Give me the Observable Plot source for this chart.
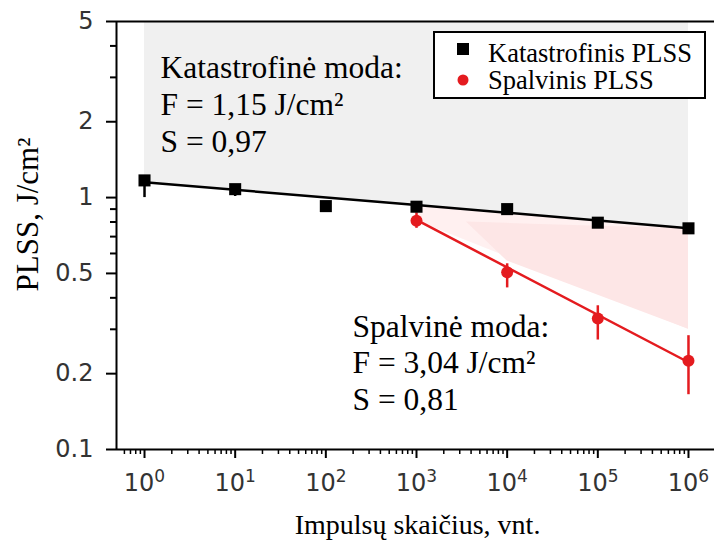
<!DOCTYPE html>
<html><head><meta charset="utf-8">
<script src="https://cdn.jsdelivr.net/npm/d3@7"></script>
<script src="https://cdn.jsdelivr.net/npm/@observablehq/plot@0.6"></script>
<style>
body{margin:0;background:#fff;}
#wrap{position:relative;width:714px;height:541px;overflow:hidden;}
#legend{position:absolute;left:0;top:0;pointer-events:none;}
</style></head>
<body><div id="wrap"></div>
<script>
// ---- data ----
const catN     = [1, 10, 100, 1e3, 1e4, 1e5, 1e6];
const catPLSS  = [1.17, 1.08, 0.925, 0.92, 0.90, 0.795, 0.755];
const catLow   = [1.00, 1.01, 0.91, 0.90, 0.85, 0.78, 0.74];
const catHigh  = [1.22, 1.12, 0.95, 0.94, 0.93, 0.82, 0.77];

const spalN    = [1e3, 1e4, 1e5, 1e6];
const spalPLSS = [0.81, 0.505, 0.331, 0.225];
const spalLow  = [0.755, 0.438, 0.272, 0.165];
const spalHigh = [0.87, 0.546, 0.372, 0.283];

// fitted lines (read at their ends)
const catFitN  = [1, 1e3, 1e6];
const catFit   = [1.15, 0.935, 0.755];
const spalFitN = [1e3, 1e6];
const spalFit  = [0.815, 0.222];

// shaded regions
const grayTop   = 5;
const pinkN     = [1e3, 1e6];
const pinkLow   = [0.81, 0.30];
const pinkHigh  = [0.935, 0.755];
const pink2N    = [10 ** 3.55, 1e4, 1e6];
const pink2Low  = [0.80, 0.56, 0.30];
const pink2High = [0.80, 0.79, 0.75];

// axes
const xTicks      = [1, 10, 100, 1e3, 1e4, 1e5, 1e6];
const xTickLabels = ["10^0", "10^1", "10^2", "10^3", "10^4", "10^5", "10^6"];
const yTicks      = [0.1, 0.2, 0.5, 1, 2, 5];
const yTickLabels = ["0.1", "0.2", "0.5", "1", "2", "5"];
const yMinor      = [0.3, 0.4, 0.6, 0.7, 0.8, 0.9, 3, 4];
const xDomain     = [10 ** -0.309, 10 ** 6.287];
const yDomain     = [0.1, 5];

const xMinor = [];
for (let e = -1; e <= 6; e++) for (let m = 2; m <= 9; m++) {
  const v = m * 10 ** e;
  if (v > xDomain[0] * 1.02 && v < xDomain[1]) xMinor.push(v);
}

const annoCat  = "Katastrofinė moda:\nF = 1,15 J/cm²\nS = 0,97";
const annoSpal = "Spalvinė moda:\nF = 3,04 J/cm²\nS = 0,81";
const xTitle = "Impulsų skaičius, vnt.";
const yTitle = "PLSS, J/cm²";
const legendItems = ["Katastrofinis PLSS", "Spalvinis PLSS"];

const RED = "#e41b1f";
const serif = "'Liberation Serif', 'Times New Roman', serif";
const idx = (a) => a.map((_, i) => i);

const chart = Plot.plot({
  width: 714, height: 541,
  marginLeft: 116, marginRight: 0, marginTop: 21, marginBottom: 92,
  style: {fontFamily: "DejaVu Sans", background: "white", overflow: "visible"},
  x: {type: "log", domain: xDomain, axis: null},
  y: {type: "log", domain: yDomain, axis: null},
  marks: [
    Plot.areaY(idx(catFitN), {x: i => catFitN[i], y1: i => catFit[i], y2: () => grayTop, fill: "#f0f0f0"}),
    Plot.areaY(idx(pinkN), {x: i => pinkN[i], y1: i => pinkLow[i], y2: i => pinkHigh[i], fill: "#fff0f0"}),
    Plot.areaY(idx(pink2N), {x: i => pink2N[i], y1: i => pink2Low[i], y2: i => pink2High[i], fill: "#fde6e6"}),
    Plot.line(idx(catFitN), {x: i => catFitN[i], y: i => catFit[i], stroke: "#000", strokeWidth: 2.5}),
    Plot.line(idx(spalFitN), {x: i => spalFitN[i], y: i => spalFit[i], stroke: RED, strokeWidth: 2.5}),
    Plot.ruleX(idx(catN), {x: i => catN[i], y1: i => catLow[i], y2: i => catHigh[i], stroke: "#000", strokeWidth: 2.5}),
    Plot.ruleX(idx(spalN), {x: i => spalN[i], y1: i => spalLow[i], y2: i => spalHigh[i], stroke: RED, strokeWidth: 2.5}),
    Plot.dot(idx(catN), {x: i => catN[i], y: i => catPLSS[i], symbol: "square", r: 6.8, fill: "#000"}),
    Plot.dot(idx(spalN), {x: i => spalN[i], y: i => spalPLSS[i], symbol: "circle", r: 6, fill: RED}),
    Plot.text([annoCat], {text: d => d, frameAnchor: "top-left", textAnchor: "start", lineAnchor: "top",
      dx: 44, dy: 30, fontSize: 31.5, lineHeight: 1.18, fontFamily: serif, fill: "#000"}),
    Plot.text([annoSpal], {text: d => d, frameAnchor: "top-left", textAnchor: "start", lineAnchor: "top",
      dx: 236, dy: 290, fontSize: 31.5, lineHeight: 1.15, fontFamily: serif, fill: "#000"}),
    Plot.text([xTitle], {text: d => d, frameAnchor: "bottom", lineAnchor: "top", dx: 2, dy: 65,
      fontSize: 28, fontFamily: serif, fill: "#000"}),
    Plot.text([yTitle], {text: d => d, frameAnchor: "left", textAnchor: "middle", rotate: -90, dx: -88, dy: -21,
      fontSize: 31, fontFamily: serif, fill: "#000"}),
    Plot.axisY({ticks: yTicks, tickSize: 10, tickPadding: 13, tickFormat: d => yTickLabels[yTicks.indexOf(d)],
      fontSize: 24, stroke: "#000", fill: "#333", strokeWidth: 2, label: null}),
    Plot.axisY({ticks: yMinor, tickSize: 6, tickFormat: () => "", stroke: "#000", strokeWidth: 2, label: null}),
    Plot.axisX({ticks: xTicks, tickSize: 9, tickPadding: 15, tickFormat: d => xTickLabels[xTicks.indexOf(d)],
      fontSize: 24, stroke: "#000", fill: "#333", strokeWidth: 2, label: null}),
    Plot.axisX({ticks: xMinor, tickSize: 5, tickFormat: () => "", stroke: "#000", strokeWidth: 1.5, label: null}),
    Plot.ruleY([yDomain[1]], {stroke: "#000", strokeWidth: 2}),
    Plot.ruleY([yDomain[0]], {stroke: "#000", strokeWidth: 2}),
    Plot.ruleX([xDomain[0]], {stroke: "#000", strokeWidth: 2})
  ]
});

// tick label sizes
d3.select(chart).selectAll('g[aria-label="y-axis tick label"], g[aria-label="y-axis tick label"] text')
  .attr("font-size", 24).style("font-size", "24px");
d3.select(chart).selectAll('g[aria-label="x-axis tick label"], g[aria-label="x-axis tick label"] text')
  .attr("font-size", 24).style("font-size", "24px");

// superscript exponents on x tick labels
d3.select(chart).selectAll('g[aria-label="x-axis tick label"] text').each(function () {
  const t = this.textContent;
  if (t.indexOf("^") > 0) {
    const [b, e] = t.split("^");
    const s = d3.select(this);
    s.text(null);
    s.append("tspan").text(b);
    s.append("tspan").attr("dy", "-0.5em").style("font-size", "17px").text(e);
  }
});

const wrap = document.getElementById("wrap");
wrap.appendChild(chart);

// legend
const lg = d3.select(wrap).append("svg").attr("id", "legend").attr("width", 714).attr("height", 541);
lg.append("rect").attr("x", 434).attr("y", 32).attr("width", 271).attr("height", 66)
  .attr("fill", "#fff").attr("stroke", "#000").attr("stroke-width", 2);
lg.append("rect").attr("x", 457).attr("y", 43).attr("width", 12).attr("height", 12).attr("fill", "#000");
lg.append("circle").attr("cx", 463).attr("cy", 80).attr("r", 5.5).attr("fill", RED);
legendItems.forEach((t, i) => {
  lg.append("text").attr("x", 488).attr("y", 62 + i * 27).attr("font-family", serif)
    .attr("font-size", 26.5).attr("fill", "#000").text(t);
});
</script>
</body></html>
